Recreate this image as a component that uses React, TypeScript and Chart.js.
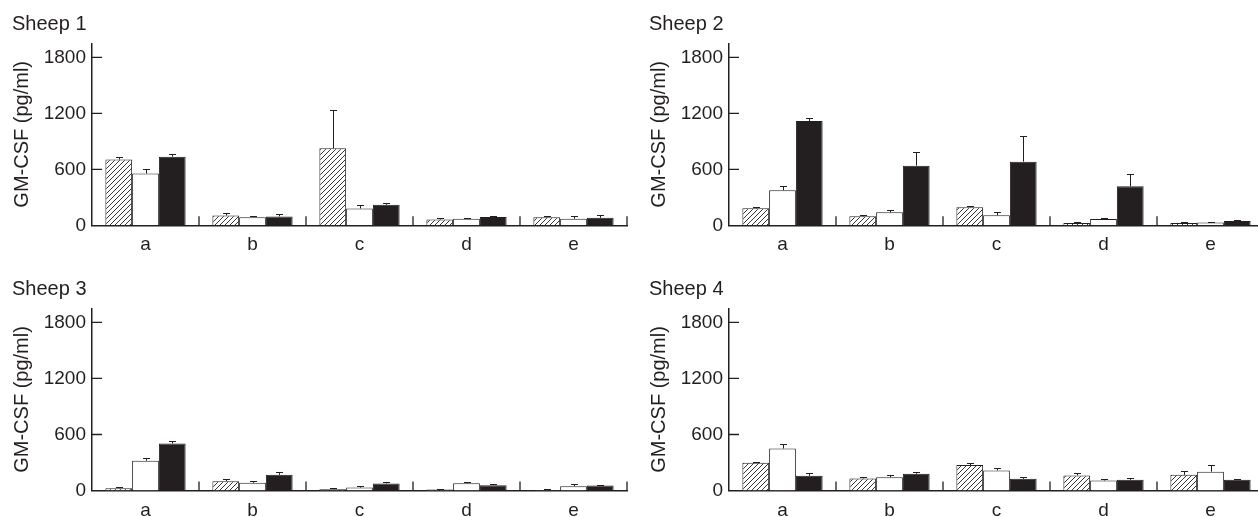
import React, { useEffect, useRef } from 'react';
import { Chart, registerables } from 'chart.js';

Chart.register(...registerables);

// ---------- data ----------
const categories = ['a', 'b', 'c', 'd', 'e'];
const yTicks = [0, 600, 1200, 1800];
const yMax = 1950;
const yAxisTitle = 'GM-CSF (pg/ml)';
const panelTitles = ['Sheep 1', 'Sheep 2', 'Sheep 3', 'Sheep 4'];

const sheep1Hatched = [705, 105, 825, 62, 85];
const sheep1HatchedErr = [30, 30, 410, 18, 18];
const sheep1White = [555, 85, 180, 70, 70];
const sheep1WhiteErr = [45, 20, 35, 12, 25];
const sheep1Black = [735, 95, 220, 88, 80];
const sheep1BlackErr = [25, 22, 18, 15, 30];

const sheep2Hatched = [182, 96, 193, 25, 25];
const sheep2HatchedErr = [18, 15, 11, 14, 7];
const sheep2White = [375, 139, 107, 68, 29];
const sheep2WhiteErr = [43, 22, 32, 14, 10];
const sheep2Black = [1118, 639, 682, 418, 46];
const sheep2BlackErr = [28, 150, 271, 136, 11];

const sheep3Hatched = [25, 101, 14, 11, 7];
const sheep3HatchedErr = [18, 21, 11, 11, 7];
const sheep3White = [320, 83, 32, 79, 47];
const sheep3WhiteErr = [29, 21, 15, 15, 21];
const sheep3Black = [504, 169, 76, 58, 54];
const sheep3BlackErr = [22, 25, 18, 14, 7];

const sheep4Hatched = [299, 130, 274, 162, 169];
const sheep4HatchedErr = [11, 14, 25, 22, 43];
const sheep4White = [450, 144, 216, 108, 202];
const sheep4WhiteErr = [50, 25, 22, 14, 72];
const sheep4Black = [158, 180, 126, 115, 115];
const sheep4BlackErr = [29, 22, 18, 18, 11];

const panelSeries = [
  [sheep1Hatched, sheep1HatchedErr, sheep1White, sheep1WhiteErr, sheep1Black, sheep1BlackErr],
  [sheep2Hatched, sheep2HatchedErr, sheep2White, sheep2WhiteErr, sheep2Black, sheep2BlackErr],
  [sheep3Hatched, sheep3HatchedErr, sheep3White, sheep3WhiteErr, sheep3Black, sheep3BlackErr],
  [sheep4Hatched, sheep4HatchedErr, sheep4White, sheep4WhiteErr, sheep4Black, sheep4BlackErr],
];

// ---------- styling / layout ----------
const INK = '#231f20';
const FONT = "'Liberation Sans', Arial, Helvetica, sans-serif";

const panelLayout = [
  { left: 0, top: 0, w: 637, h: 262, bottom: 225.3 },
  { left: 637, top: 0, w: 640, h: 262, bottom: 225.3 },
  { left: 0, top: 265, w: 637, h: 252, bottom: 225.6 },
  { left: 637, top: 265, w: 640, h: 252, bottom: 225.6 },
];

function makeHatch(): CanvasPattern | string {
  const s = 5;
  const c = document.createElement('canvas');
  c.width = s;
  c.height = s;
  const g = c.getContext('2d');
  if (!g) return '#fff';
  g.fillStyle = '#ffffff';
  g.fillRect(0, 0, s, s);
  g.strokeStyle = INK;
  g.lineWidth = 0.9;
  g.beginPath();
  g.moveTo(-1, s + 1);
  g.lineTo(s + 1, -1);
  g.moveTo(-1, 1);
  g.lineTo(1, -1);
  g.moveTo(s - 1, s + 1);
  g.lineTo(s + 1, s - 1);
  g.stroke();
  return g.createPattern(c, 'repeat') || '#fff';
}

const errorBarPlugin = {
  id: 'errorBars',
  afterDatasetsDraw(chart: any) {
    const ctx = chart.ctx;
    const yScale = chart.scales.y;
    chart.data.datasets.forEach((ds: any, i: number) => {
      const meta = chart.getDatasetMeta(i);
      meta.data.forEach((el: any, j: number) => {
        const v = ds.data[j];
        const e = ds.errors[j];
        const x = Math.round(el.x) + 0.5;
        const y0 = el.y;
        const y1 = Math.round(yScale.getPixelForValue(v + e)) + 0.5;
        ctx.save();
        ctx.strokeStyle = INK;
        ctx.lineWidth = 1;
        ctx.beginPath();
        ctx.moveTo(x, y0);
        ctx.lineTo(x, y1);
        ctx.moveTo(x - 3.5, y1);
        ctx.lineTo(x + 3.5, y1);
        ctx.stroke();
        ctx.restore();
      });
    });
  },
};

const inwardTicksPlugin = {
  id: 'inwardTicks',
  afterDraw(chart: any) {
    const { ctx, chartArea: a } = chart;
    const xs = chart.scales.x;
    const ys = chart.scales.y;
    ctx.save();
    ctx.strokeStyle = INK;
    ctx.lineWidth = 1.3;
    ctx.beginPath();
    yTicks.forEach((v) => {
      if (v === 0) return;
      const py = ys.getPixelForValue(v);
      ctx.moveTo(a.left, py);
      ctx.lineTo(a.left + 10, py);
    });
    const half = (xs.getPixelForValue(1) - xs.getPixelForValue(0)) / 2;
    categories.forEach((_, i) => {
      const px = xs.getPixelForValue(i) + half;
      ctx.moveTo(px, a.bottom);
      ctx.lineTo(px, a.bottom - 9);
    });
    ctx.stroke();
    ctx.restore();
  },
};

function Panel({ index }: { index: number }) {
  const ref = useRef<HTMLCanvasElement | null>(null);
  const L = panelLayout[index];
  useEffect(() => {
    if (!ref.current) return;
    const [h, he, w, we, b, be] = panelSeries[index];
    const hatch = makeHatch();
    const chart = new Chart(ref.current, {
      type: 'bar',
      data: {
        labels: categories,
        datasets: [
          { data: h, errors: he, backgroundColor: hatch, borderColor: INK, borderWidth: 1 } as any,
          { data: w, errors: we, backgroundColor: '#ffffff', borderColor: INK, borderWidth: 1 } as any,
          { data: b, errors: be, backgroundColor: INK, borderColor: INK, borderWidth: 1 } as any,
        ],
      },
      options: {
        responsive: false,
        animation: false,
        devicePixelRatio: 1,
        layout: { padding: { left: 12, right: L.w - 627, top: 0, bottom: 0 } },
        datasets: { bar: { categoryPercentage: 0.75, barPercentage: 1 } },
        plugins: {
          legend: { display: false },
          tooltip: { enabled: false },
          title: {
            display: true,
            text: panelTitles[index],
            align: 'start',
            color: INK,
            font: { family: FONT, size: 20, weight: 'normal', lineHeight: 1.2 },
            padding: { top: 12.5, bottom: 6.8 },
          },
        },
        scales: {
          x: {
            grid: { display: false, drawTicks: false },
            border: { display: true, color: INK, width: 1.5 },
            ticks: { color: INK, font: { family: FONT, size: 19 }, padding: 8.5, maxRotation: 0 },
            afterFit: (s: any) => {
              s.height = L.h - L.bottom;
            },
          },
          y: {
            min: 0,
            max: yMax,
            afterBuildTicks: (s: any) => {
              s.ticks = yTicks.map((v) => ({ value: v }));
            },
            grid: { display: false, drawTicks: false },
            border: { display: true, color: INK, width: 1.5 },
            ticks: {
              color: INK,
              font: { family: FONT, size: 19 },
              padding: 6,
              callback: (v: any) => String(v),
            },
            title: {
              display: true,
              text: yAxisTitle,
              color: INK,
              font: { family: FONT, size: 20 },
              padding: { top: -2, bottom: 0 },
            },
            afterFit: (s: any) => {
              s.width = 80;
            },
          },
        },
      } as any,
      plugins: [errorBarPlugin, inwardTicksPlugin],
    });
    return () => chart.destroy();
  }, [index]);
  return (
    <canvas
      ref={ref}
      width={L.w}
      height={L.h}
      style={{ position: 'absolute', left: L.left, top: L.top, width: L.w, height: L.h }}
    />
  );
}

export default function App() {
  return (
    <div
      style={{
        position: 'absolute',
        left: 0,
        top: 0,
        width: 1258,
        height: 517,
        overflow: 'hidden',
        background: '#ffffff',
      }}
    >
      {[0, 1, 2, 3].map((i) => (
        <Panel key={i} index={i} />
      ))}
    </div>
  );
}
